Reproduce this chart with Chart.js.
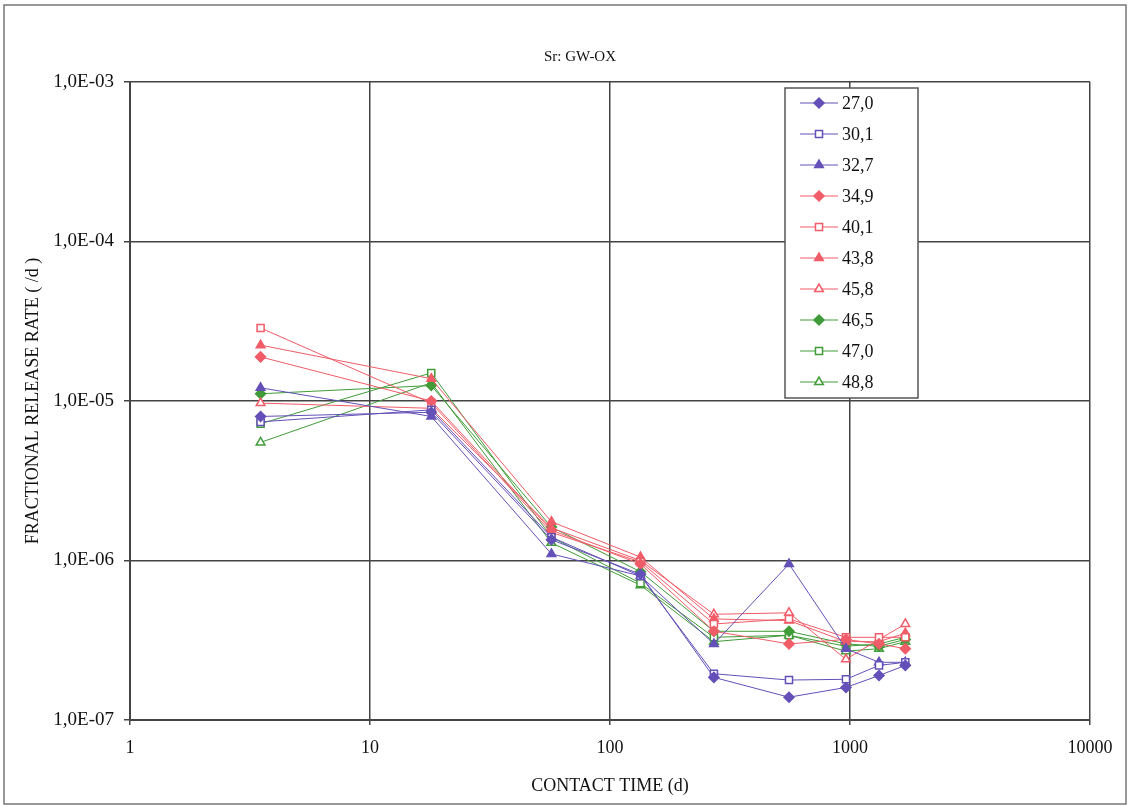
<!DOCTYPE html>
<html>
<head>
<meta charset="utf-8">
<script src="https://cdn.jsdelivr.net/npm/chart.js@4.4.1/dist/chart.umd.min.js"></script>
<style>
  html, body { margin: 0; padding: 0; background: #fff; }
  #wrap { width: 1130px; height: 807px; }
</style>
</head>
<body>
<div id="wrap"><canvas id="myChart" width="1130" height="807"></canvas></div>
<script>
// contact times (d) and fractional release rates (/d) per sample
const contactTime = [3.5, 18, 57, 134, 271, 557, 962, 1321, 1700];

const r27_0 = [8.0e-6, 8.5e-6, 1.35e-6, 8.2e-7, 1.85e-7, 1.39e-7, 1.6e-7, 1.9e-7, 2.2e-7];
const r30_1 = [7.4e-6, 8.8e-6, 1.4e-6, 8.0e-7, 1.95e-7, 1.78e-7, 1.8e-7, 2.2e-7, 2.3e-7];
const r32_7 = [1.21e-5, 8.0e-6, 1.1e-6, 8.0e-7, 3.0e-7, 9.5e-7, 2.8e-7, 2.3e-7, 2.3e-7];
const r34_9 = [1.89e-5, 1.0e-5, 1.55e-6, 9.5e-7, 3.6e-7, 3.0e-7, 3.2e-7, 3.0e-7, 2.8e-7];
const r40_1 = [2.87e-5, 9.7e-6, 1.5e-6, 9.8e-7, 4.0e-7, 4.3e-7, 3.3e-7, 3.3e-7, 3.3e-7];
const r43_8 = [2.24e-5, 1.38e-5, 1.75e-6, 1.05e-6, 4.3e-7, 4.2e-7, 3.1e-7, 3.1e-7, 3.5e-7];
const r45_8 = [9.7e-6, 9.0e-6, 1.6e-6, 1.0e-6, 4.6e-7, 4.7e-7, 2.4e-7, 3.2e-7, 4.0e-7];
const r46_5 = [1.11e-5, 1.25e-5, 1.62e-6, 8.5e-7, 3.6e-7, 3.6e-7, 3.0e-7, 2.9e-7, 3.2e-7];
const r47_0 = [7.2e-6, 1.5e-5, 1.4e-6, 7.2e-7, 3.3e-7, 3.4e-7, 2.9e-7, 3.0e-7, 3.3e-7];
const r48_8 = [5.5e-6, 1.3e-5, 1.29e-6, 7.0e-7, 3.1e-7, 3.4e-7, 2.7e-7, 2.8e-7, 3.1e-7];

const seriesLabels = ['27,0', '30,1', '32,7', '34,9', '40,1', '43,8', '45,8', '46,5', '47,0', '48,8'];
const seriesValues = [r27_0, r30_1, r32_7, r34_9, r40_1, r43_8, r45_8, r46_5, r47_0, r48_8];

const xTicks = [1, 10, 100, 1000, 10000];
const yTicks = [1e-7, 1e-6, 1e-5, 1e-4, 1e-3];
const yTickLabels = ['1,0E-07', '1,0E-06', '1,0E-05', '1,0E-04', '1,0E-03'];

const chartTitle = 'Sr: GW-OX';

const BLUE = 'rgb(100, 80, 184)';
const RED = 'rgb(240, 92, 104)';
const GREEN = 'rgb(64, 156, 56)';

// colour / marker / filled for each series
const styles = [
  [BLUE, 'rectRot', true], [BLUE, 'rect', false], [BLUE, 'triangle', true],
  [RED, 'rectRot', true], [RED, 'rect', false], [RED, 'triangle', true], [RED, 'triangle', false],
  [GREEN, 'rectRot', true], [GREEN, 'rect', false], [GREEN, 'triangle', false],
];

const datasets = seriesLabels.map((label, i) => {
  const [color, shape, filled] = styles[i];
  return {
    label: label,
    data: contactTime.map((t, j) => ({ x: t, y: seriesValues[i][j] })),
    borderColor: color,
    borderWidth: 1,
    backgroundColor: filled ? color : '#ffffff',
    pointStyle: shape,
    pointRadius: 5,
    pointBorderColor: color,
    pointBorderWidth: 1.5,
    pointBackgroundColor: filled ? color : '#ffffff',
    fill: false,
    tension: 0,
  };
});

// legend box drawn inside the plot area, line - marker - line then text
const boxLegend = {
  id: 'boxLegend',
  afterDraw(chart) {
    const c = chart.ctx;
    const left = 785, top = 88, w = 133, h = 310;
    c.save();
    c.fillStyle = '#ffffff';
    c.fillRect(left, top, w, h);
    c.strokeStyle = '#555';
    c.lineWidth = 1.5;
    c.strokeRect(left, top, w, h);
    c.font = '18px "Liberation Serif"';
    c.textBaseline = 'middle';
    chart.data.datasets.forEach((ds, i) => {
      const y = top + 15 + i * 31;
      c.strokeStyle = ds.borderColor;
      c.lineWidth = 1;
      c.beginPath();
      c.moveTo(800, y);
      c.lineTo(838, y);
      c.stroke();
      c.fillStyle = ds.pointBackgroundColor;
      c.lineWidth = 1.5;
      Chart.helpers.drawPoint(c, { pointStyle: ds.pointStyle, radius: 5, borderWidth: 1.5 }, 819, y);
      c.fillStyle = '#111';
      c.fillText(ds.label, 842, y + 1);
    });
    c.restore();
  }
};

// outer frame and the small title above the plot
const outerFrame = {
  id: 'outerFrame',
  beforeDraw(chart) {
    const c = chart.ctx;
    c.save();
    c.fillStyle = '#fff';
    c.fillRect(0, 0, chart.width, chart.height);
    c.strokeStyle = '#777';
    c.lineWidth = 1.5;
    c.strokeRect(4, 5, chart.width - 8, chart.height - 8);
    c.fillStyle = '#111';
    c.font = '15px "Liberation Serif"';
    c.textAlign = 'center';
    c.textBaseline = 'middle';
    c.fillText(chartTitle, 580, 57);
    c.restore();
  }
};

const ctx = document.getElementById('myChart').getContext('2d');
const myChart = new Chart(ctx, {
  type: 'line',
  data: { datasets: datasets },
  plugins: [outerFrame, boxLegend],
  options: {
    responsive: false,
    animation: false,
    layout: { padding: { left: 0, right: 40, top: 82, bottom: 6 } },
    plugins: {
      legend: { display: false },
      tooltip: { enabled: false },
      title: { display: false },
    },
    scales: {
      x: {
        type: 'logarithmic',
        min: 1,
        max: 10000,
        afterBuildTicks: (axis) => { axis.ticks = xTicks.map(v => ({ value: v })); },
        afterFit: (axis) => { axis.height = 81; },
        ticks: {
          color: '#111',
          font: { family: 'Liberation Serif', size: 18 },
          padding: 12,
          maxRotation: 0,
          autoSkip: false,
          callback: (v) => String(v),
        },
        grid: { color: '#444', lineWidth: 1.5, tickLength: 5, drawTicks: true },
        border: { color: '#444', width: 2 },
        title: {
          display: true,
          text: 'CONTACT TIME (d)',
          color: '#111',
          font: { family: 'Liberation Serif', size: 18 },
          padding: { top: 4 },
        },
      },
      y: {
        type: 'logarithmic',
        min: 1e-7,
        max: 1e-3,
        afterBuildTicks: (axis) => { axis.ticks = yTicks.map(v => ({ value: v })); },
        afterFit: (axis) => { axis.width = 130; },
        ticks: {
          color: '#111',
          font: { family: 'Liberation Serif', size: 19 },
          padding: 10,
          autoSkip: false,
          callback: (v) => yTickLabels[yTicks.findIndex(t => Math.abs(Math.log10(t) - Math.log10(v)) < 1e-6)],
        },
        grid: { color: '#444', lineWidth: 1.5, tickLength: 6, drawTicks: true },
        border: { color: '#444', width: 2 },
        title: {
          display: true,
          text: 'FRACTIONAL RELEASE RATE ( /d )',
          color: '#111',
          font: { family: 'Liberation Serif', size: 18 },
          padding: { top: 22, bottom: 0 },
        },
      },
    },
  },
});
</script>
</body>
</html>
